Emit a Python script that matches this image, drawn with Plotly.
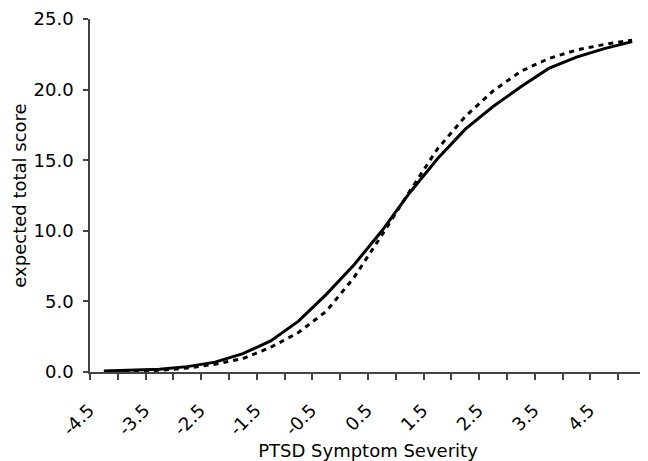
import plotly.graph_objects as go

# PTSD symptom severity (theta) categories
severity = [-4.5, -4.0, -3.5, -3.0, -2.5, -2.0, -1.5, -1.0, -0.5, 0.0,
            0.5, 1.0, 1.5, 2.0, 2.5, 3.0, 3.5, 4.0, 4.5, 5.0]

# expected total score, solid curve
score_solid = [0.07, 0.12, 0.2, 0.38, 0.7, 1.3, 2.2, 3.6, 5.5, 7.6,
               10.0, 12.7, 15.1, 17.2, 18.8, 20.2, 21.5, 22.3, 22.9, 23.4]

# expected total score, dashed curve
score_dashed = [0.02, 0.06, 0.12, 0.28, 0.55, 0.95, 1.75, 2.8, 4.3, 6.7,
                9.7, 12.8, 15.8, 18.1, 19.9, 21.3, 22.2, 22.8, 23.2, 23.5]

tick_values = [-4.5, -3.5, -2.5, -1.5, -0.5, 0.5, 1.5, 2.5, 3.5, 4.5]
tick_labels = ["-4.5", "-3.5", "-2.5", "-1.5", "-0.5", "0.5", "1.5", "2.5", "3.5", "4.5"]

FONT = "DejaVu Sans"

fig = go.Figure()
fig.add_trace(go.Scatter(x=severity, y=score_solid, mode="lines",
                         line=dict(color="black", width=3), showlegend=False))
fig.add_trace(go.Scatter(x=severity, y=score_dashed, mode="lines",
                         line=dict(color="black", width=3, dash="5px,5px"), showlegend=False))

# the page body has an 8px margin, so the figure is sized to fit the window
fig.update_layout(
    width=640, height=453,
    margin=dict(l=82, r=2, t=11, b=89),
    plot_bgcolor="white", paper_bgcolor="white",
    font=dict(family=FONT, size=18, color="black"),
    xaxis=dict(
        range=[-4.75, 5.25], automargin=False,
        tickmode="array", tickvals=tick_values, ticktext=tick_labels,
        ticks="", tickangle=-45, ticklabelshift=-15, ticklabelstandoff=19,
        showline=True, linecolor="#444", linewidth=1.5,
        showgrid=False, zeroline=False,
        minor=dict(tick0=-4.75, dtick=0.5, ticks="outside", ticklen=6,
                   tickcolor="#444", tickwidth=1.5, showgrid=False),
        title=dict(text="PTSD Symptom Severity", font=dict(size=18), standoff=16),
    ),
    yaxis=dict(
        range=[0, 25], automargin=False,
        tickmode="array", tickvals=[0, 5, 10, 15, 20, 25],
        tickformat=".1f", ticks="outside", ticklen=5, tickcolor="#444", tickwidth=1.5,
        ticklabelstandoff=6,
        showline=True, linecolor="#444", linewidth=1.5,
        showgrid=False, zeroline=False,
        title=dict(text="expected total score", font=dict(size=18), standoff=2),
    ),
)

fig.write_html("out.html")
